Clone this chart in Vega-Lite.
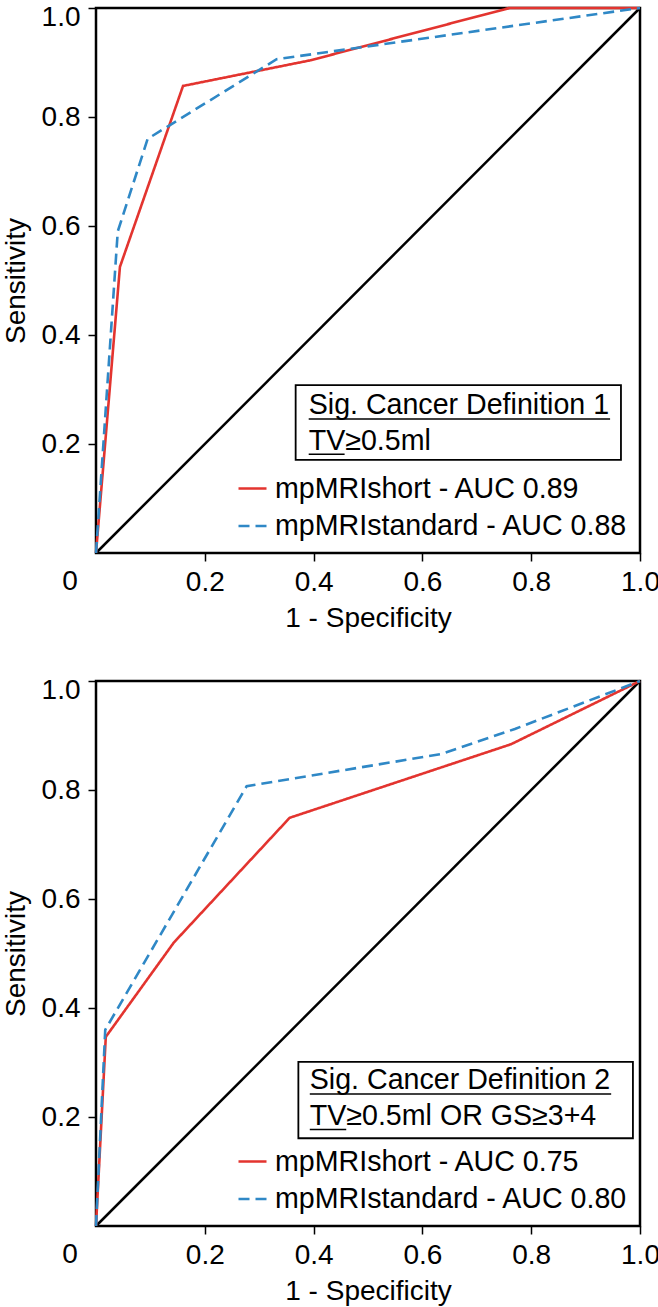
{
  "$schema": "https://vega.github.io/schema/vega-lite/v6.json",
  "description": "ROC curves for mpMRIshort vs mpMRIstandard, two definitions of significant cancer",
  "padding": {"top": 1, "left": 0, "right": 0, "bottom": 0},
  "spacing": 40,
  "datasets": {
    "def1": [
      {"series": "mpMRIshort - AUC 0.89", "fpr": 0, "tpr": 0},
      {"series": "mpMRIshort - AUC 0.89", "fpr": 0.044, "tpr": 0.525},
      {"series": "mpMRIshort - AUC 0.89", "fpr": 0.16, "tpr": 0.857},
      {"series": "mpMRIshort - AUC 0.89", "fpr": 0.394, "tpr": 0.904},
      {"series": "mpMRIshort - AUC 0.89", "fpr": 0.76, "tpr": 1},
      {"series": "mpMRIshort - AUC 0.89", "fpr": 1, "tpr": 1},
      {"series": "mpMRIstandard - AUC 0.88", "fpr": 0, "tpr": 0},
      {"series": "mpMRIstandard - AUC 0.88", "fpr": 0.04, "tpr": 0.59},
      {"series": "mpMRIstandard - AUC 0.88", "fpr": 0.095, "tpr": 0.76},
      {"series": "mpMRIstandard - AUC 0.88", "fpr": 0.332, "tpr": 0.906},
      {"series": "mpMRIstandard - AUC 0.88", "fpr": 1, "tpr": 1}
    ],
    "def2": [
      {"series": "mpMRIshort - AUC 0.75", "fpr": 0, "tpr": 0},
      {"series": "mpMRIshort - AUC 0.75", "fpr": 0.018, "tpr": 0.347},
      {"series": "mpMRIshort - AUC 0.75", "fpr": 0.143, "tpr": 0.52},
      {"series": "mpMRIshort - AUC 0.75", "fpr": 0.356, "tpr": 0.749},
      {"series": "mpMRIshort - AUC 0.75", "fpr": 0.763, "tpr": 0.884},
      {"series": "mpMRIshort - AUC 0.75", "fpr": 1, "tpr": 1},
      {"series": "mpMRIstandard - AUC 0.80", "fpr": 0, "tpr": 0},
      {"series": "mpMRIstandard - AUC 0.80", "fpr": 0.017, "tpr": 0.36},
      {"series": "mpMRIstandard - AUC 0.80", "fpr": 0.277, "tpr": 0.807},
      {"series": "mpMRIstandard - AUC 0.80", "fpr": 0.635, "tpr": 0.866},
      {"series": "mpMRIstandard - AUC 0.80", "fpr": 0.77, "tpr": 0.912},
      {"series": "mpMRIstandard - AUC 0.80", "fpr": 1, "tpr": 1}
    ]
  },
  "vconcat": [
    {
      "width": 544,
      "height": 545,
      "layer": [
        {
          "data": {"values": [{}]},
          "mark": {"type": "rule", "color": "black", "strokeWidth": 2.5},
          "encoding": {
            "x": {"datum": 0, "type": "quantitative"},
            "y": {"datum": 0, "type": "quantitative"},
            "x2": {"datum": 1},
            "y2": {"datum": 1}
          }
        },
        {
          "data": {"name": "def1"},
          "mark": {"type": "line", "strokeWidth": 2.6},
          "encoding": {
            "x": {"field": "fpr", "type": "quantitative", "scale": {"domain": [0, 1], "nice": false},
                  "axis": {"title": "1 - Specificity", "values": [0.2, 0.4, 0.6, 0.8, 1], "format": ".1f"}},
            "y": {"field": "tpr", "type": "quantitative", "scale": {"domain": [0, 1], "nice": false},
                  "axis": {"title": "Sensitivity", "values": [0.2, 0.4, 0.6, 0.8, 1], "format": ".1f"}},
            "color": {"field": "series", "type": "nominal",
                      "scale": {"domain": ["mpMRIshort - AUC 0.89", "mpMRIstandard - AUC 0.88"], "range": ["#e3342f", "#2f88c6"]},
                      "legend": {"title": null}},
            "strokeDash": {"field": "series", "type": "nominal",
                           "scale": {"domain": ["mpMRIshort - AUC 0.89", "mpMRIstandard - AUC 0.88"], "range": [[1, 0], [11, 6]]},
                           "legend": {"title": null}}
          }
        },
        {
          "data": {"values": [{}]},
          "mark": {"type": "rect", "filled": false, "stroke": "black", "strokeWidth": 1.8},
          "encoding": {
            "x": {"datum": 0.367}, "x2": {"datum": 0.965},
            "y": {"datum": 0.171}, "y2": {"datum": 0.308}
          }
        },
        {
          "data": {"values": [{}]},
          "mark": {"type": "text", "align": "left", "baseline": "alphabetic", "fontSize": 28.6, "lineHeight": 35.5, "color": "black",
                   "text": ["Sig. Cancer Definition 1", "TV≥0.5ml"]},
          "encoding": {"x": {"datum": 0.391}, "y": {"datum": 0.255}}
        },
        {
          "data": {"values": [{}]},
          "mark": {"type": "rule", "color": "black", "strokeWidth": 1.5},
          "encoding": {"x": {"datum": 0.391}, "x2": {"datum": 0.945}, "y": {"datum": 0.246}}
        },
        {
          "data": {"values": [{}]},
          "mark": {"type": "rule", "color": "black", "strokeWidth": 1.5},
          "encoding": {"x": {"datum": 0.391}, "x2": {"datum": 0.457}, "y": {"datum": 0.181}}
        },
        {
          "data": {"values": [{}]},
          "mark": {"type": "text", "align": "center", "baseline": "alphabetic", "fontSize": 28, "dx": -26, "dy": 37, "color": "black", "text": "0"},
          "encoding": {"x": {"datum": 0}, "y": {"datum": 0}}
        }
      ]
    },
    {
      "width": 544,
      "height": 545,
      "layer": [
        {
          "data": {"values": [{}]},
          "mark": {"type": "rule", "color": "black", "strokeWidth": 2.5},
          "encoding": {
            "x": {"datum": 0, "type": "quantitative"},
            "y": {"datum": 0, "type": "quantitative"},
            "x2": {"datum": 1},
            "y2": {"datum": 1}
          }
        },
        {
          "data": {"name": "def2"},
          "mark": {"type": "line", "strokeWidth": 2.6},
          "encoding": {
            "x": {"field": "fpr", "type": "quantitative", "scale": {"domain": [0, 1], "nice": false},
                  "axis": {"title": "1 - Specificity", "values": [0.2, 0.4, 0.6, 0.8, 1], "format": ".1f"}},
            "y": {"field": "tpr", "type": "quantitative", "scale": {"domain": [0, 1], "nice": false},
                  "axis": {"title": "Sensitivity", "values": [0.2, 0.4, 0.6, 0.8, 1], "format": ".1f"}},
            "color": {"field": "series", "type": "nominal",
                      "scale": {"domain": ["mpMRIshort - AUC 0.75", "mpMRIstandard - AUC 0.80"], "range": ["#e3342f", "#2f88c6"]},
                      "legend": {"title": null}},
            "strokeDash": {"field": "series", "type": "nominal",
                           "scale": {"domain": ["mpMRIshort - AUC 0.75", "mpMRIstandard - AUC 0.80"], "range": [[1, 0], [11, 6]]},
                           "legend": {"title": null}}
          }
        },
        {
          "data": {"values": [{}]},
          "mark": {"type": "rect", "filled": false, "stroke": "black", "strokeWidth": 1.8},
          "encoding": {
            "x": {"datum": 0.372}, "x2": {"datum": 0.987},
            "y": {"datum": 0.161}, "y2": {"datum": 0.301}
          }
        },
        {
          "data": {"values": [{}]},
          "mark": {"type": "text", "align": "left", "baseline": "alphabetic", "fontSize": 28.6, "lineHeight": 35.5, "color": "black",
                   "text": ["Sig. Cancer Definition 2", "TV≥0.5ml OR GS≥3+4"]},
          "encoding": {"x": {"datum": 0.393}, "y": {"datum": 0.251}}
        },
        {
          "data": {"values": [{}]},
          "mark": {"type": "rule", "color": "black", "strokeWidth": 1.5},
          "encoding": {"x": {"datum": 0.393}, "x2": {"datum": 0.947}, "y": {"datum": 0.242}}
        },
        {
          "data": {"values": [{}]},
          "mark": {"type": "rule", "color": "black", "strokeWidth": 1.5},
          "encoding": {"x": {"datum": 0.393}, "x2": {"datum": 0.46}, "y": {"datum": 0.177}}
        },
        {
          "data": {"values": [{}]},
          "mark": {"type": "text", "align": "center", "baseline": "alphabetic", "fontSize": 28, "dx": -26, "dy": 37, "color": "black", "text": "0"},
          "encoding": {"x": {"datum": 0}, "y": {"datum": 0}}
        }
      ]
    }
  ],
  "resolve": {"scale": {"color": "independent", "strokeDash": "independent"}},
  "config": {
    "font": "Liberation Sans",
    "view": {"stroke": "black", "strokeWidth": 2.5},
    "axis": {
      "grid": false,
      "domain": false,
      "ticks": true,
      "tickColor": "black",
      "tickSize": 8,
      "tickWidth": 1.5,
      "labelFontSize": 28,
      "labelColor": "black",
      "labelPadding": 7,
      "titleFontSize": 28,
      "titleFontWeight": "normal",
      "titleColor": "black"
    },
    "axisX": {"titlePadding": 8, "labelFlush": false},
    "axisY": {"titlePadding": 11, "labelPadding": 8, "labelFlush": true, "labelFlushOffset": 5},
    "legend": {
      "orient": "bottom-right",
      "offset": 12,
      "padding": 0,
      "labelFontSize": 28.6,
      "labelColor": "black",
      "labelLimit": 600,
      "labelOffset": 7,
      "symbolType": "stroke",
      "symbolSize": 784,
      "symbolStrokeWidth": 2.5,
      "rowPadding": 6.4
    }
  }
}
